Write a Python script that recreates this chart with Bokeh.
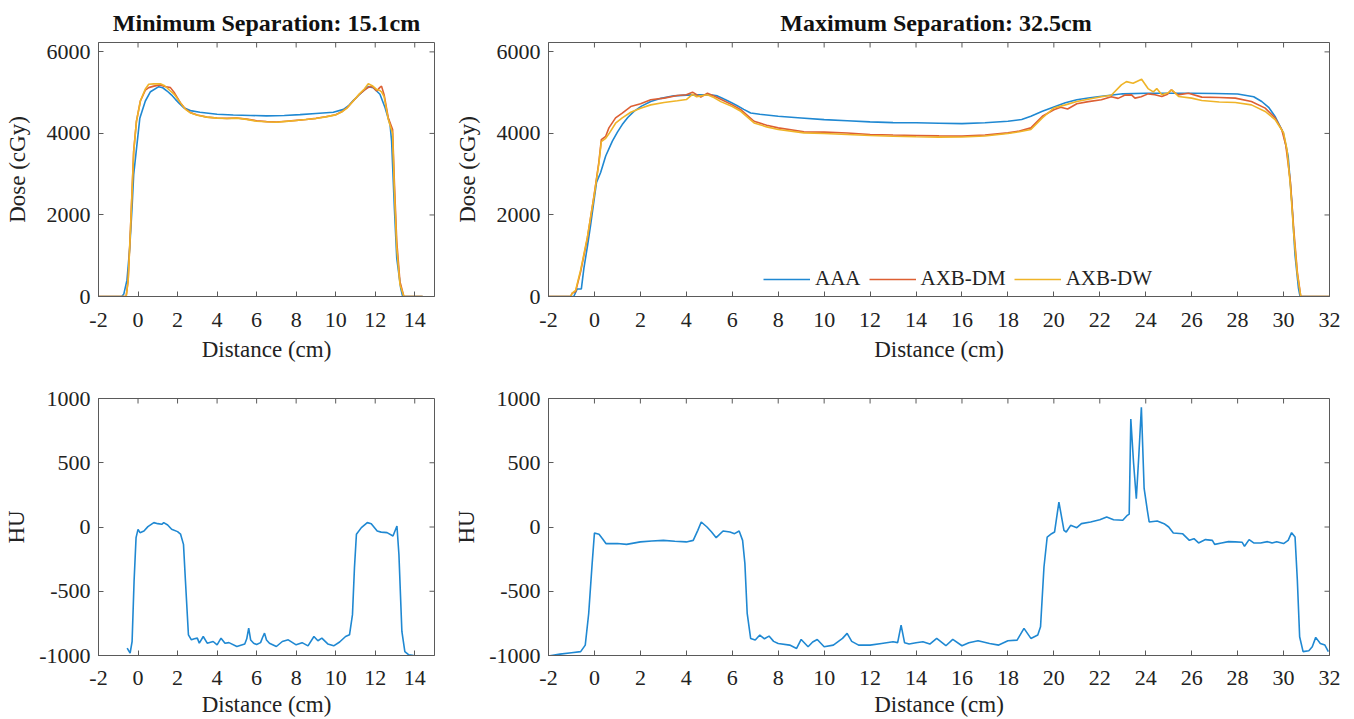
import math
from bokeh.plotting import figure
from bokeh.models import Range1d, FixedTicker, Legend, LegendItem
from bokeh.layouts import row, column
from bokeh.embed import file_html
from bokeh.resources import INLINE

# ---------------- data ----------------
series_names = ["AAA", "AXB-DM", "AXB-DW"]
titles = ["Minimum Separation: 15.1cm", "Maximum  Separation: 32.5cm"]

x_ticks_min = [-2, 0, 2, 4, 6, 8, 10, 12, 14]
x_ticks_max = [-2, 0, 2, 4, 6, 8, 10, 12, 14, 16, 18, 20, 22, 24, 26, 28, 30, 32]
dose_ticks = [0, 2000, 4000, 6000]
hu_ticks = [-1000, -500, 0, 500, 1000]

# Minimum separation, dose profiles
min_aaa_x = [-2.0, -0.82, -0.72, -0.56, -0.42, -0.3, -0.22, 0.09, 0.37, 0.63, 1.05, 1.25,
             1.47, 1.7, 1.89, 2.1, 2.31, 2.65, 3.13, 4.0, 4.82, 5.7, 6.5, 7.4, 8.2, 9.0,
             9.88, 10.4, 10.65, 10.9, 11.15, 11.4, 11.65, 11.9, 12.24, 12.5, 12.75, 12.83,
             12.97, 13.09, 13.29, 13.39, 14.4]
min_aaa_y = [0, 0, 60, 400, 1188, 2200, 2990, 4370, 4795, 5023, 5147, 5120,
             5040, 4940, 4836, 4730, 4630, 4560, 4520, 4470, 4450, 4440, 4430, 4440, 4460, 4490,
             4520, 4590, 4680, 4810, 4930, 5040, 5147, 5120, 4960, 4630, 4220, 3811,
             2171, 942, 205, 0, 0]

min_axb_x = [-2.0, -0.6, -0.5, -0.38, -0.22, -0.08, 0.12, 0.37, 0.54, 0.8, 1.13, 1.35,
             1.64, 1.85, 2.14, 2.4, 2.65, 3.0, 3.49, 4.0, 4.5, 5.0, 5.5, 6.0, 6.5, 7.0,
             7.5, 8.0, 8.5, 9.0, 9.5, 10.0, 10.3, 10.6, 10.9, 11.2, 11.45, 11.65, 11.85,
             12.07, 12.24, 12.32, 12.45, 12.66, 12.88, 12.97, 13.09, 13.25, 13.45, 14.4]
min_dm_y = [0, 0, 400, 1680, 3565, 4300, 4795, 5060, 5123, 5160, 5190, 5150,
            5123, 4990, 4755, 4600, 4510, 4450, 4400, 4380, 4370, 4380, 4350, 4310, 4290, 4280,
            4300, 4320, 4340, 4370, 4410, 4460, 4530, 4640, 4800, 4960, 5060, 5130, 5150,
            5040, 5130, 5160, 4950, 4385, 4098, 2800, 1352, 370, 0, 0]
min_dw_y = [0, 0, 380, 1650, 3550, 4290, 4800, 5090, 5205, 5215, 5220, 5170,
            5040, 4950, 4755, 4590, 4505, 4445, 4400, 4375, 4365, 4375, 4345, 4300, 4285, 4275,
            4295, 4315, 4340, 4365, 4405, 4455, 4525, 4635, 4800, 4970, 5090, 5220, 5170,
            5080, 5050, 5020, 4900, 4350, 4000, 2600, 1200, 300, 0, 0]

# Maximum separation, dose profiles
max_aaa_x = [-2.0, -1.0, -0.9, -0.75, -0.57, -0.46, -0.3, -0.17, 0.09, 0.27,
             0.49, 0.78, 1.0, 1.21, 1.45, 1.72, 2.05, 2.45, 2.9, 3.46,
             4.0, 4.48, 5.05, 5.35, 5.64, 5.95, 6.22, 6.5, 6.8, 7.2,
             8.0, 9.0, 10.0, 11.0, 12.0, 13.0, 14.0, 15.0, 16.0, 17.0,
             18.0, 18.6, 19.0, 19.5, 20.0, 20.5, 21.0, 21.5, 22.0, 23.0,
             24.0, 25.0, 26.0, 27.0, 28.0, 28.7, 29.05, 29.35, 29.63, 29.99,
             30.2, 30.36, 30.5, 30.65, 30.72, 32.0]
max_aaa_y = [0, 0, 0, 185, 185, 690, 1250, 1740, 2800, 3040,
             3445, 3810, 4030, 4216, 4390, 4540, 4670, 4783, 4860, 4922,
             4940, 4946, 4947, 4920, 4842, 4760, 4680, 4590, 4501, 4470,
             4420, 4380, 4339, 4310, 4282, 4265, 4260, 4250, 4240, 4260,
             4300, 4340, 4420, 4542, 4648, 4750, 4826, 4870, 4907, 4971,
             4985, 4985, 4985, 4980, 4965, 4900, 4783, 4640, 4418, 4015,
             3445, 2310, 1012, 200, 0, 0]

max_dm_x = [-2.0, -1.04, -0.97, -0.82, -0.6, -0.31, -0.02, 0.19, 0.3, 0.49,
            0.63, 0.92, 1.21, 1.58, 2.01, 2.45, 3.03, 3.61, 4.0, 4.27,
            4.45, 4.63, 4.92, 5.2, 5.5, 6.0, 6.37, 6.95, 7.5, 8.0,
            9.12, 10.0, 11.0, 12.0, 13.0, 14.0, 15.0, 16.0, 17.0, 18.0,
            18.5, 19.0, 19.5, 20.0, 20.3, 20.6, 21.0, 21.5, 22.07, 22.5,
            22.8, 23.1, 23.38, 23.53, 23.8, 24.1, 24.4, 24.7, 24.95, 25.1,
            25.4, 25.86, 26.44, 27.2, 27.9, 28.6, 29.2, 29.63, 29.92, 30.1,
            30.3, 30.45, 30.6, 30.75, 32.0]
max_dm_y = [0, 0, 80, 120, 610, 1420, 2470, 3285, 3850, 3930,
            4136, 4380, 4500, 4660, 4727, 4825, 4865, 4930, 4950, 5012,
            4950, 4890, 4988, 4920, 4840, 4700, 4582, 4298, 4200, 4136,
            4039, 4031, 4010, 3974, 3960, 3950, 3940, 3933, 3960, 4014,
            4060, 4136, 4420, 4582, 4640, 4600, 4729, 4780, 4825, 4900,
            4860, 4940, 4946, 4865, 4900, 4970, 4950, 4905, 4960, 5068,
            4946, 4985, 4890, 4880, 4865, 4783, 4620, 4380, 4095, 3700,
            2800, 1600, 600, 0, 0]

max_dw_x = [-2.0, -1.04, -0.97, -0.82, -0.6, -0.31, -0.02, 0.19, 0.3, 0.49,
            0.63, 0.92, 1.21, 1.58, 2.01, 2.45, 3.03, 3.61, 4.0, 4.27,
            4.45, 4.63, 4.92, 5.2, 5.5, 6.0, 6.37, 6.95, 7.5, 8.0,
            9.12, 10.0, 11.0, 12.0, 13.0, 14.0, 15.0, 16.0, 17.0, 18.0,
            18.5, 19.0, 19.5, 20.0, 20.5, 21.0, 21.5, 22.07, 22.5, 22.94,
            23.16, 23.45, 23.82, 24.1, 24.33, 24.48, 24.7, 24.95, 25.14, 25.43,
            26.0, 26.44, 27.2, 27.9, 28.6, 29.2, 29.63, 30.0, 30.15, 30.3,
            30.45, 30.6, 30.75, 32.0]
max_dw_y = [0, 0, 80, 150, 650, 1450, 2450, 3250, 3800, 3880,
            3990, 4250, 4380, 4520, 4620, 4700, 4760, 4800, 4830, 4960,
            4900, 4920, 4950, 4880, 4780, 4660, 4542, 4258, 4160, 4096,
            4014, 3998, 3975, 3950, 3930, 3917, 3910, 3912, 3935, 3998,
            4040, 4096, 4380, 4623, 4700, 4785, 4840, 4900, 4935, 5190,
            5270, 5230, 5330, 5100, 5020, 5100, 4946, 4990, 5068, 4905,
            4865, 4808, 4770, 4760, 4700, 4540, 4340, 4015, 3600, 2700,
            1500, 550, 0, 0]

# Minimum separation, HU profile
min_hu_x = [-0.55, -0.4, -0.3, -0.2, -0.1, 0.0, 0.1, 0.3, 0.5, 0.8,
            1.0, 1.2, 1.3, 1.5, 1.7, 2.0, 2.15, 2.3, 2.4, 2.55,
            2.7, 2.85, 3.0, 3.1, 3.3, 3.5, 3.8, 4.0, 4.2, 4.4,
            4.6, 5.0, 5.4, 5.5, 5.6, 5.7, 5.85, 6.0, 6.2, 6.3,
            6.4, 6.5, 6.65, 7.0, 7.3, 7.6, 8.0, 8.3, 8.6, 8.9,
            9.1, 9.3, 9.6, 9.9, 10.2, 10.5, 10.7, 10.85, 10.95, 11.05,
            11.3, 11.6, 11.8, 12.1, 12.3, 12.6, 12.9, 13.1, 13.2, 13.35,
            13.5, 13.7, 13.95]
min_hu_y = [-943, -982, -891, -422, -83, -18, -44, -31, 3, 34,
            26, 21, 34, 16, -18, -36, -55, -135, -422, -839,
            -878, -870, -865, -904, -852, -904, -891, -917, -865, -905,
            -900, -930, -910, -870, -787, -880, -905, -915, -900, -860,
            -826, -880, -905, -930, -891, -878, -917, -900, -925, -852,
            -885, -865, -910, -925, -895, -852, -839, -682, -318, -57,
            -5, 34, 26, -31, -40, -44, -70, 8, -214, -813,
            -969, -995, -1000]

# Maximum separation, HU profile
max_hu_x = [-2.0, -1.5, -1.0, -0.6, -0.4, -0.25, -0.1, 0.0, 0.2, 0.35,
            0.5, 1.0, 1.4, 2.0, 2.5, 3.0, 3.5, 4.0, 4.3, 4.5,
            4.65, 4.9, 5.1, 5.3, 5.6, 5.9, 6.1, 6.3, 6.45, 6.55,
            6.65, 6.8, 7.0, 7.2, 7.4, 7.6, 7.8, 8.0, 8.5, 8.8,
            9.0, 9.3, 9.5, 9.7, 10.0, 10.4, 10.8, 11.0, 11.2, 11.5,
            12.0, 12.5, 13.0, 13.2, 13.35, 13.5, 13.7, 14.0, 14.3, 14.6,
            14.9, 15.3, 15.6, 16.0, 16.3, 16.7, 17.2, 17.6, 18.0, 18.4,
            18.7, 19.0, 19.3, 19.42, 19.57, 19.71, 19.9, 20.03, 20.22, 20.44,
            20.54, 20.73, 21.0, 21.2, 21.6, 22.0, 22.3, 22.6, 23.0, 23.2,
            23.28, 23.35, 23.47, 23.59, 23.7, 23.81, 23.93, 24.07, 24.15, 24.5,
            24.8, 25.0, 25.2, 25.6, 25.9, 26.1, 26.3, 26.6, 26.9, 27.0,
            27.3, 27.6, 27.9, 28.2, 28.3, 28.5, 28.7, 29.0, 29.3, 29.5,
            29.7, 30.0, 30.2, 30.35, 30.5, 30.6, 30.7, 30.85, 31.1, 31.25,
            31.4, 31.6, 31.8, 31.95]
max_hu_y = [-1004, -989, -978, -970, -919, -673, -285, -47, -57, -91,
            -129, -129, -135, -116, -109, -104, -111, -116, -104, -26,
            39, 0, -39, -83, -31, -39, -52, -31, -104, -285,
            -673, -867, -880, -841, -870, -849, -890, -906, -919, -945,
            -875, -932, -895, -875, -932, -919, -867, -828, -890, -919,
            -919, -906, -893, -900, -763, -900, -911, -901, -893, -911,
            -867, -924, -875, -924, -901, -885, -906, -919, -885, -880,
            -789, -867, -841, -777, -311, -78, -52, -39, 194, -26,
            -39, 13, -5, 26, 39, 57, 78, 57, 52, 91,
            100, 841, 500, 220, 560, 932, 300, 130, 39, 47,
            26, 0, -47, -52, -104, -91, -124, -98, -104, -135,
            -124, -114, -116, -119, -150, -98, -124, -124, -114, -124,
            -114, -129, -104, -44, -78, -414, -854, -970, -963, -932,
            -859, -906, -919, -970]

# ---------------- style ----------------
FONT = "Liberation Serif"
TEXT = "#222222"
GRAY = "#5a5a5a"
COLORS = ["#1f88d2", "#dd5f33", "#efb428"]
LW = 1.6
TICK_LEN = 5


def set_ticks(ax, ticks):
    ax.ticker = FixedTicker(ticks=ticks)
    ax.major_label_overrides = {t: str(t) for t in ticks}
    ax.minor_tick_line_color = None
    ax.major_tick_in = TICK_LEN
    ax.major_tick_out = 0
    ax.major_tick_line_color = GRAY
    ax.axis_line_color = GRAY
    ax.major_label_text_font = FONT
    ax.major_label_text_font_size = "22px"
    ax.major_label_text_color = TEXT
    ax.major_label_text_line_height = 1.0
    ax.axis_label_text_font = FONT
    ax.axis_label_text_font_size = "23px"
    ax.axis_label_text_font_style = "normal"
    ax.axis_label_text_color = TEXT
    ax.axis_label_text_line_height = 1.0


def make_fig(w, h, x_end, y_lo, y_hi, xticks, yticks, ylabel, ylab_standoff,
             borders, xstand, title=None):
    bl, br, bt, bb = borders
    p = figure(width=w, height=h, x_range=Range1d(-2, x_end), y_range=Range1d(y_lo, y_hi),
               output_backend="svg", toolbar_location=None,
               min_border_left=bl, min_border_right=br, min_border_top=bt, min_border_bottom=bb,
               background_fill_color="white", border_fill_color="white",
               outline_line_color=GRAY, outline_line_width=1)
    p.grid.visible = False
    set_ticks(p.xaxis[0], xticks)
    set_ticks(p.yaxis[0], yticks)
    p.xaxis.major_label_standoff = xstand[0]
    p.yaxis.major_label_standoff = 8
    p.xaxis.axis_label = "Distance (cm)"
    p.yaxis.axis_label = ylabel
    p.xaxis.axis_label_standoff = xstand[1]
    p.yaxis.axis_label_standoff = ylab_standoff
    # inward ticks on the top and right edges of the box
    p.ray(x=xticks, y=[y_hi] * len(xticks), length=TICK_LEN, angle=-math.pi / 2,
          length_units="screen", line_color=GRAY, line_width=1)
    p.ray(x=[x_end] * len(yticks), y=yticks, length=TICK_LEN, angle=math.pi,
          length_units="screen", line_color=GRAY, line_width=1)
    if title:
        p.title.text = title
        p.title.text_font = FONT
        p.title.text_font_size = "24px"
        p.title.text_font_style = "bold"
        p.title.text_color = "#111111"
        p.title.align = "center"
        p.title.standoff = 13
    return p


p1 = make_fig(450, 370, 15, 0, 6230, x_ticks_min, dose_ticks, "Dose (cGy)", 14,
              (98, 16, 42, 74), (16, 7), titles[0])
p2 = make_fig(904, 370, 32, 0, 6230, x_ticks_max, dose_ticks, "Dose (cGy)", 14,
              (98, 25, 42, 74), (16, 7), titles[1])
p3 = make_fig(450, 349, 15, -1000, 1000, x_ticks_min, hu_ticks, "HU", 7,
              (98, 16, 28, 64), (15, 4))
p4 = make_fig(904, 349, 32, -1000, 1000, x_ticks_max, hu_ticks, "HU", 7,
              (98, 25, 28, 64), (15, 4))

p1.line(min_aaa_x, min_aaa_y, color=COLORS[0], line_width=LW)
p1.line(min_axb_x, min_dm_y, color=COLORS[1], line_width=LW)
p1.line(min_axb_x, min_dw_y, color=COLORS[2], line_width=LW)

r_a = p2.line(max_aaa_x, max_aaa_y, color=COLORS[0], line_width=LW)
r_m = p2.line(max_dm_x, max_dm_y, color=COLORS[1], line_width=LW)
r_w = p2.line(max_dw_x, max_dw_y, color=COLORS[2], line_width=LW)

legend = Legend(items=[LegendItem(label=series_names[0], renderers=[r_a]),
                       LegendItem(label=series_names[1], renderers=[r_m]),
                       LegendItem(label=series_names[2], renderers=[r_w])],
                orientation="horizontal", location=(215, 5),
                label_text_font=FONT, label_text_font_size="21px", label_text_color=TEXT,
                glyph_width=47, glyph_height=20, label_height=20, label_standoff=5,
                spacing=8, padding=0, margin=0, border_line_color=None,
                background_fill_alpha=0)
p2.add_layout(legend)

p3.line(min_hu_x, min_hu_y, color=COLORS[0], line_width=LW)
p4.line(max_hu_x, max_hu_y, color=COLORS[0], line_width=LW)

layout = row(column(p1, p3), column(p2, p4))
open("out.html", "w").write(file_html(layout, INLINE))
